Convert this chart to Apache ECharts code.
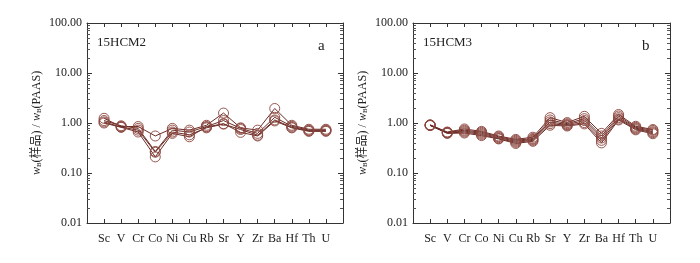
<!DOCTYPE html>
<html>
<head>
<meta charset="utf-8">
<script src="https://cdn.jsdelivr.net/npm/echarts@6/dist/echarts.min.js"></script>
<style>
  html, body { margin: 0; padding: 0; background: #fff; }
  #chart { width: 700px; height: 263px; }
</style>
</head>
<body>
<div id="chart"></div>
<script>
const elements = ["Sc", "V", "Cr", "Co", "Ni", "Cu", "Rb", "Sr", "Y", "Zr", "Ba", "Hf", "Th", "U"];

// panel a: 15HCM2
const hcm2 = [
  [1.24, 0.85, 0.85, 0.55, 0.78, 0.72, 0.9, 1.58, 0.8, 0.72, 1.95, 0.9, 0.75, 0.75],
  [1.12, 0.88, 0.78, 0.27, 0.72, 0.66, 0.85, 1.12, 0.78, 0.62, 1.3, 0.86, 0.72, 0.72],
  [1.05, 0.83, 0.72, 0.26, 0.66, 0.58, 0.8, 0.95, 0.74, 0.57, 1.15, 0.82, 0.7, 0.7],
  [1.0, 0.82, 0.66, 0.21, 0.62, 0.53, 0.83, 0.97, 0.65, 0.55, 1.1, 0.8, 0.68, 0.68],
];

// panel b: 15HCM3
const hcm3 = [
  [0.92, 0.66, 0.76, 0.68, 0.55, 0.47, 0.52, 1.28, 1.02, 1.36, 0.62, 1.48, 0.86, 0.74],
  [0.91, 0.65, 0.72, 0.65, 0.53, 0.45, 0.49, 1.15, 0.97, 1.22, 0.55, 1.38, 0.82, 0.71],
  [0.9, 0.64, 0.69, 0.62, 0.51, 0.43, 0.47, 1.05, 0.93, 1.12, 0.5, 1.28, 0.79, 0.67],
  [0.9, 0.63, 0.66, 0.59, 0.49, 0.41, 0.45, 0.97, 0.9, 1.02, 0.45, 1.2, 0.76, 0.64],
  [0.89, 0.62, 0.63, 0.56, 0.48, 0.39, 0.43, 0.9, 0.87, 0.96, 0.4, 1.15, 0.73, 0.61],
];

// minor tick positions, as log10 exponents (2..9 within each decade)
const minorExp = [];
[-2, -1, 0, 1].forEach((e) => {
  for (let k = 2; k <= 9; k++) minorExp.push(e + Math.log10(k));
});

const serif = "Liberation Serif";
const lineColor = "#6b2b25";
const axisColor = "#333";

const grids = [
  { left: 87, width: 256, top: 23, bottom: 40 },
  { left: 413, width: 257, top: 23, bottom: 40 },
];

const xAxes = [];
const yAxes = [];
grids.forEach((g, gi) => {
  ["bottom", "top"].forEach((pos) => {
    xAxes.push({
      gridIndex: gi,
      type: "value",
      position: pos,
      min: -1,
      max: 14,
      interval: 1,
      axisLine: { show: true, onZero: false, lineStyle: { color: axisColor } },
      axisTick: { show: true, inside: true, length: 4, lineStyle: { color: axisColor } },
      splitLine: { show: false },
      axisLabel: {
        show: pos === "bottom",
        margin: 10,
        fontFamily: serif,
        fontSize: 12,
        color: "#222",
        formatter: (v) => elements[v] || "",
      },
    });
  });
  ["left", "right"].forEach((pos) => {
    yAxes.push({
      gridIndex: gi,
      type: "log",
      logBase: 10,
      position: pos,
      min: 0.01,
      max: 100,
      splitLine: { show: false },
      axisLine: { show: true, onZero: false, lineStyle: { color: axisColor } },
      axisTick: { show: true, inside: true, length: 5, lineStyle: { color: axisColor } },
      axisLabel: {
        show: pos === "left",
        margin: 5,
        fontFamily: serif,
        fontSize: 12,
        color: "#222",
        formatter: (v) => v.toFixed(2),
      },
      name: pos === "left" ? "{w|w}{sub|B}{t|(样品) / }{w|w}{sub|B}{t|(PAAS)}" : "",
      nameLocation: "middle",
      nameRotate: 90,
      nameGap: 44,
      nameTextStyle: {
        rich: {
          w: { fontFamily: serif, fontStyle: "italic", fontSize: 12, color: "#222" },
          sub: { fontFamily: serif, fontSize: 7, color: "#222", padding: [6, 0, 0, 0] },
          t: { fontFamily: serif + ", Noto Sans CJK SC", fontSize: 12, color: "#222" },
        },
      },
    });
    // minor ticks on a linear exponent axis spanning the same range
    yAxes.push({
      gridIndex: gi,
      type: "value",
      position: pos,
      min: -2,
      max: 2,
      splitLine: { show: false },
      axisLine: { show: false, onZero: false },
      axisTick: { show: true, inside: true, length: 3, lineStyle: { color: "#555" }, customValues: minorExp },
      axisLabel: { show: false },
    });
  });
});

const makeSeries = (rows, panel) =>
  rows.map((row) => ({
    type: "line",
    xAxisIndex: panel * 2,
    yAxisIndex: panel * 4,
    data: row.map((v, i) => [i, v]),
    symbol: "circle",
    symbolSize: 10,
    showAllSymbol: true,
    lineStyle: { color: lineColor, width: 1 },
    itemStyle: { color: "rgba(255,255,255,0)", borderColor: "#8a453d", borderWidth: 0.9 },
    silent: true,
    animation: false,
    z: 3,
  }));

const chart = echarts.init(document.getElementById("chart"));
chart.setOption({
  animation: false,
  grid: grids,
  xAxis: xAxes,
  yAxis: yAxes,
  series: [...makeSeries(hcm2, 0), ...makeSeries(hcm3, 1)],
  graphic: [
    { type: "text", left: 97, top: 36, style: { text: "15HCM2", font: "13px " + serif, fill: "#222" } },
    { type: "text", left: 318, top: 39, style: { text: "a", font: "15px " + serif, fill: "#222" } },
    { type: "text", left: 423, top: 36, style: { text: "15HCM3", font: "13px " + serif, fill: "#222" } },
    { type: "text", left: 642, top: 39, style: { text: "b", font: "15px " + serif, fill: "#222" } },
  ],
});
</script>
</body>
</html>
